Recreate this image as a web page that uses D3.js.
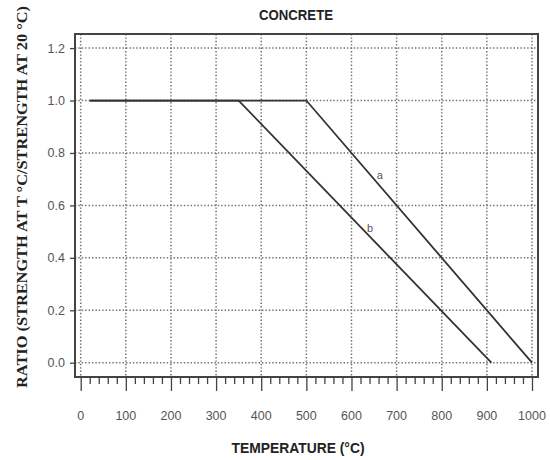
<!DOCTYPE html>
<html>
<head>
<meta charset="utf-8">
<script src="https://cdn.jsdelivr.net/npm/d3@7"></script>
<style>
  body { margin: 0; background: #fff; }
  svg { display: block; }
</style>
</head>
<body>
<div id="chart"></div>
<script>
var width = 550,
    height = 460;

// data
var xTicks = [0, 100, 200, 300, 400, 500, 600, 700, 800, 900, 1000];
var yTicks = [0, 0.2, 0.4, 0.6, 0.8, 1.0, 1.2];
var curveA = [[20, 1.0], [500, 1.0], [1000, 0.0]];
var curveB = [[20, 1.0], [350, 1.0], [910, 0.0]];
var curveLabels = [{ name: "a", t: 663, r: 0.70 }, { name: "b", t: 641, r: 0.50 }];

var frame = { left: 75, top: 34, right: 538, bottom: 377 };

var svg = d3.select("#chart")
    .append("svg")
    .attr("width", width)
    .attr("height", height);

var x = d3.scaleLinear().domain([0, 1000]).range([80.7, 532]);
var y = d3.scaleLinear().domain([0, 1.2]).range([362.7, 48.1]);

// dotted grid
svg.append("g").selectAll("line")
    .data(xTicks).enter()
    .append("line")
    .attr("x1", function(d) { return x(d); })
    .attr("x2", function(d) { return x(d); })
    .attr("y1", frame.top)
    .attr("y2", frame.bottom)
    .attr("stroke", "#707070")
    .attr("stroke-width", 1.5)
    .attr("stroke-dasharray", "1.4,2");

svg.append("g").selectAll("line")
    .data(yTicks).enter()
    .append("line")
    .attr("x1", frame.left)
    .attr("x2", frame.right)
    .attr("y1", function(d) { return y(d); })
    .attr("y2", function(d) { return y(d); })
    .attr("stroke", "#707070")
    .attr("stroke-width", 1.5)
    .attr("stroke-dasharray", "1.4,2");

// frame
svg.append("rect")
    .attr("x", frame.left)
    .attr("y", frame.top)
    .attr("width", frame.right - frame.left)
    .attr("height", frame.bottom - frame.top)
    .attr("fill", "none")
    .attr("stroke", "#444")
    .attr("stroke-width", 2);

// x axis ticks below the frame (minor every 20)
var xAxis = d3.axisBottom(x)
    .tickValues(d3.range(0, 1001, 20))
    .tickSize(7)
    .tickFormat("");
var gx = svg.append("g")
    .attr("transform", "translate(0," + frame.bottom + ")")
    .call(xAxis);
gx.select(".domain").remove();
gx.selectAll(".tick line")
    .attr("stroke", "#444")
    .attr("stroke-width", 1.3)
    .attr("y2", function(d) { return d % 100 === 0 ? 14 : 7; });

svg.append("g").selectAll("text")
    .data(xTicks).enter()
    .append("text")
    .attr("x", function(d) { return x(d); })
    .attr("y", 420)
    .attr("text-anchor", "middle")
    .attr("font-family", "Liberation Sans, Arial, sans-serif")
    .attr("font-size", 12.5)
    .attr("fill", "#555")
    .text(function(d) { return d; });

// y axis
var yAxis = d3.axisLeft(y)
    .tickValues(yTicks)
    .tickSize(5)
    .tickPadding(5)
    .tickFormat(d3.format(".1f"));
var gy = svg.append("g")
    .attr("transform", "translate(" + frame.left + ",0)")
    .call(yAxis);
gy.select(".domain").remove();
gy.selectAll(".tick line").attr("stroke", "#444").attr("stroke-width", 1.3);
gy.selectAll(".tick text")
    .attr("font-family", "Liberation Sans, Arial, sans-serif")
    .attr("font-size", 12.5)
    .attr("fill", "#555");

// curves
var line = d3.line()
    .x(function(d) { return x(d[0]); })
    .y(function(d) { return y(d[1]); });

[curveA, curveB].forEach(function(c) {
    svg.append("path")
        .datum(c)
        .attr("d", line)
        .attr("fill", "none")
        .attr("stroke", "#333")
        .attr("stroke-width", 1.8);
});

svg.append("g").selectAll("text")
    .data(curveLabels).enter()
    .append("text")
    .attr("x", function(d) { return x(d.t); })
    .attr("y", function(d) { return y(d.r); })
    .attr("text-anchor", "middle")
    .attr("font-family", "Liberation Sans, Arial, sans-serif")
    .attr("font-size", 11)
    .attr("fill", "#555")
    .text(function(d) { return d.name; });

// titles
svg.append("text")
    .attr("x", 296)
    .attr("y", 20)
    .attr("text-anchor", "middle")
    .attr("font-family", "Liberation Sans Narrow, Arial Narrow, Liberation Sans, sans-serif")
    .attr("font-weight", "bold")
    .attr("font-size", 14)
    .attr("fill", "#222")
    .attr("textLength", 74)
    .attr("lengthAdjust", "spacingAndGlyphs")
    .text("CONCRETE");

svg.append("text")
    .attr("x", 298)
    .attr("y", 453)
    .attr("text-anchor", "middle")
    .attr("font-family", "Liberation Sans Narrow, Arial Narrow, Liberation Sans, sans-serif")
    .attr("font-weight", "bold")
    .attr("font-size", 14.5)
    .attr("fill", "#222")
    .attr("textLength", 133)
    .attr("lengthAdjust", "spacingAndGlyphs")
    .text("TEMPERATURE (°C)");

svg.append("text")
    .attr("transform", "translate(27,197) rotate(-90)")
    .attr("text-anchor", "middle")
    .attr("font-family", "Liberation Serif, Times New Roman, serif")
    .attr("font-weight", "bold")
    .attr("font-size", 15.5)
    .attr("fill", "#222")
    .attr("textLength", 382)
    .attr("lengthAdjust", "spacingAndGlyphs")
    .text("RATIO (STRENGTH AT T °C/STRENGTH AT 20 °C)");
</script>
</body>
</html>
